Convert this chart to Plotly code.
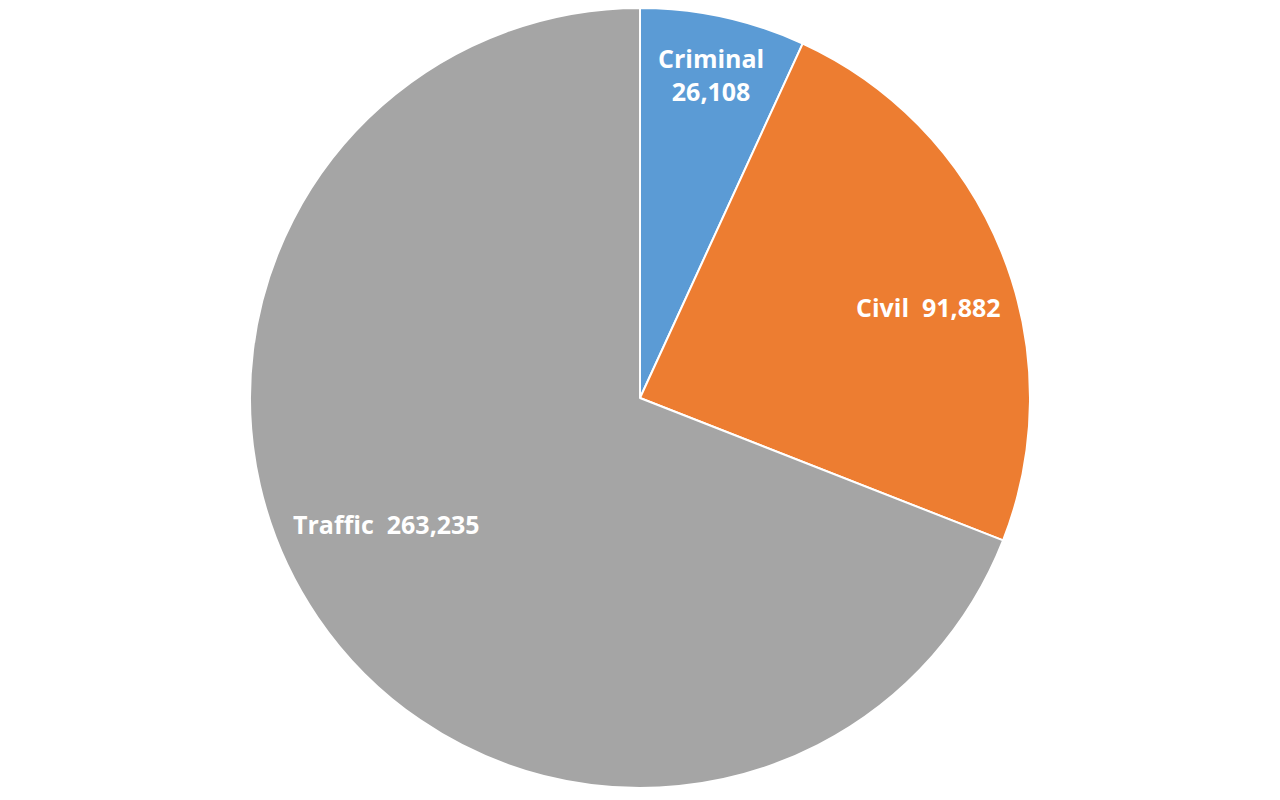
import math
import plotly.graph_objects as go

categories = ["Criminal", "Civil", "Traffic"]
values = [26108, 91882, 263235]
label_texts = ["Criminal<br>26,108", "Civil  91,882", "Traffic  263,235"]
colors = ["#5B9BD5", "#ED7D31", "#A5A5A5"]

# label placement style: radius fraction and angle offset (deg) per slice
label_r = [0.85, 0.775, 0.725]
label_dang = [0.0, 4.5, 7.8]

W, H = 1280, 800
# the page body has an 8px margin, so compensate
cx, cy, R = 632, 390, 390

fig = go.Figure(go.Pie(
    labels=categories,
    values=values,
    marker=dict(colors=colors, line=dict(color="white", width=2)),
    sort=False,
    direction="clockwise",
    rotation=0,
    textinfo="none",
    hoverinfo="label+value",
    showlegend=False,
    domain=dict(x=[(cx - R) / W, (cx + R) / W], y=[1 - (cy + R) / H, 1 - (cy - R) / H]),
))

total = sum(values)
cum = 0
annotations = []
for i, v in enumerate(values):
    mid = (cum + v / 2) / total * 360 + label_dang[i]
    cum += v
    a = math.radians(mid)
    dx = label_r[i] * R * math.sin(a)
    dy = -label_r[i] * R * math.cos(a)
    annotations.append(dict(
        x=(cx + dx) / W, y=1 - (cy + dy) / H, xref="paper", yref="paper",
        text=label_texts[i], showarrow=False,
        font=dict(family="Open Sans", size=25, color="white", weight="bold"),
        align="center", xanchor="center", yanchor="middle",
    ))

fig.update_layout(
    width=W, height=H,
    margin=dict(l=0, r=0, t=0, b=0),
    paper_bgcolor="white",
    plot_bgcolor="white",
    annotations=annotations,
)

fig.write_html("out.html")
